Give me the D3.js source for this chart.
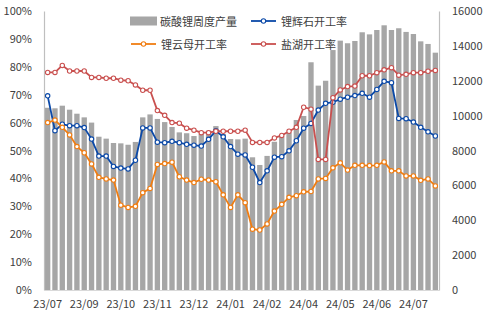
<!DOCTYPE html>
<html><head><meta charset="utf-8">
<script src="https://cdn.jsdelivr.net/npm/d3@7"></script>
<style>
html,body{margin:0;padding:0;background:#fff;}
svg text{font-family:"Noto Sans CJK SC","Noto Sans",sans-serif;}
</style></head>
<body><svg id="c" width="487" height="325"></svg>
<script>
const weeks = ["2023-07-28","2023-08-04","2023-08-11","2023-08-18","2023-08-25","2023-09-01","2023-09-08","2023-09-15","2023-09-22","2023-09-29",
"2023-10-06","2023-10-13","2023-10-20","2023-10-27","2023-11-03","2023-11-10","2023-11-17","2023-11-24","2023-12-01","2023-12-08",
"2023-12-15","2023-12-22","2023-12-29","2024-01-05","2024-01-12","2024-01-19","2024-01-26","2024-02-02","2024-02-09","2024-02-16",
"2024-02-23","2024-03-01","2024-03-08","2024-03-15","2024-03-22","2024-04-03","2024-04-12","2024-04-19","2024-04-26","2024-05-03",
"2024-05-10","2024-05-17","2024-05-24","2024-05-31","2024-06-07","2024-06-14","2024-06-21","2024-06-28","2024-07-05","2024-07-12",
"2024-07-19","2024-07-26","2024-08-02","2024-08-09"];
const tickLabels = ["23/07","23/09","23/10","23/11","23/12","24/01","24/02","24/04","24/05","24/06","24/07"];
const leftTicks = [0,10,20,30,40,50,60,70,80,90,100];
const rightTicks = [0,2000,4000,6000,8000,10000,12000,14000,16000];

// 碳酸锂周度产量 (吨)
const production = [10450,10420,10570,10340,10110,9900,9600,8790,8680,8430,
8410,8330,8490,9900,10070,9810,9630,9350,9040,8990,
8830,8950,9140,9400,8950,8660,8640,8680,7610,7170,
7690,8500,8790,9020,9750,9980,13060,11720,12000,13760,
14300,14150,14280,14780,14660,14910,15180,14910,15010,14800,
14680,14260,14110,13610];
// 锂辉石开工率 (%)
const spodumene = [69.6,57.1,59.4,58.9,58.9,58.2,54.1,48.0,48.0,44.3,
43.7,43.4,46.5,58.1,58.1,53.0,52.8,53.3,52.8,52.2,
51.9,51.6,54.0,57.1,54.9,51.4,48.7,48.4,44.0,38.5,
42.7,47.6,47.8,49.9,53.5,58.0,59.7,64.5,66.9,67.3,
68.4,69.1,69.7,70.5,69.1,71.9,74.8,74.3,61.5,61.4,
60.2,58.3,56.7,55.2];
// 锂云母开工率 (%)
const lepidolite = [60.0,60.9,58.3,55.6,51.4,49.2,45.2,40.4,39.8,39.4,
30.4,29.6,30.0,34.9,36.4,45.0,45.3,45.8,40.6,39.4,
38.5,39.7,39.4,38.8,34.1,29.6,34.1,31.3,21.8,21.5,
23.7,28.3,30.7,33.2,33.8,35.2,35.3,39.8,40.0,43.8,
45.6,43.0,44.7,44.7,44.6,44.7,45.9,42.7,42.7,40.9,
40.9,39.3,39.8,37.3];
// 盐湖开工率 (%)
const saltLake = [78.0,78.0,80.5,78.5,78.5,78.5,76.2,76.2,75.9,75.9,
75.2,75.0,73.5,71.6,71.6,64.3,62.6,60.0,59.8,58.0,
57.3,56.4,56.4,56.9,56.9,56.9,56.9,57.3,52.9,52.9,
52.9,54.5,55.4,56.9,58.3,65.5,64.8,46.8,46.8,68.9,
71.7,72.9,73.1,76.8,76.8,77.9,78.9,79.7,77.0,77.3,
77.9,77.9,78.4,78.7];

const seriesNames = {bar:"碳酸锂周度产量", s:"锂辉石开工率", l:"锂云母开工率", y:"盐湖开工率"};
const colors = {bar:"#A6A6A6", s:"#0B49A8", l:"#F07D12", y:"#C9504F"};

const svg = d3.select("#c");
const L = 44, R = 439, T = 11, B = 290;

const x = d3.scaleBand().domain(weeks).range([L, R]).paddingInner(0.27).paddingOuter(0.135);
const yL = d3.scaleLinear().domain([0,100]).range([B, T]);
const yR = d3.scaleLinear().domain([0,16000]).range([B, T]);

// bars
svg.append("g").selectAll("rect").data(production).join("rect")
  .attr("x", (d,i)=>x(weeks[i]))
  .attr("width", x.bandwidth())
  .attr("y", d=>yR(d))
  .attr("height", d=>B - yR(d))
  .attr("fill", colors.bar);

// axes
const tickColor = "#404040";
const axL = svg.append("g").attr("transform",`translate(${L},0)`)
  .call(d3.axisLeft(yL).tickValues(leftTicks).tickFormat(d=>d+"%").tickSize(0).tickPadding(12));
const axR = svg.append("g").attr("transform",`translate(${R},0)`)
  .call(d3.axisRight(yR).tickValues(rightTicks).tickFormat(d3.format("d")).tickSize(0).tickPadding(13));
const tickIdx = weeks.filter((d,i)=>i%5===0);
const axB = svg.append("g").attr("transform",`translate(0,${B})`)
  .call(d3.axisBottom(x).tickValues(tickIdx).tickFormat((d,i)=>tickLabels[i]).tickSize(0).tickPadding(10));
[axL,axR,axB].forEach(a=>{
  a.select(".domain").attr("stroke","#BFBFBF").attr("stroke-width",1.2);
  a.selectAll("text").attr("font-size","11px").attr("fill",tickColor)
   .style("font-family",'"Noto Sans CJK SC","Noto Sans",sans-serif');
});
axB.select(".domain").attr("stroke","#D9D9D9");

// lines
function drawLine(data, color){
  const line = d3.line().x((d,i)=>x(weeks[i])+x.bandwidth()/2).y(d=>yL(d));
  svg.append("path").datum(data).attr("d",line).attr("fill","none")
    .attr("stroke",color).attr("stroke-width",1.8).attr("stroke-linejoin","round");
  svg.append("g").selectAll("circle").data(data).join("circle")
    .attr("cx",(d,i)=>x(weeks[i])+x.bandwidth()/2).attr("cy",d=>yL(d))
    .attr("r",2.2).attr("fill","#fff").attr("stroke",color).attr("stroke-width",1.1);
}
drawLine(spodumene, colors.s);
drawLine(lepidolite, colors.l);
drawLine(saltLake, colors.y);

// legend
const lg = svg.append("g");
const items = [
  {t:"bar", name:seriesNames.bar, x:130, y:21},
  {t:"s", name:seriesNames.s, x:251, y:21},
  {t:"l", name:seriesNames.l, x:131, y:44},
  {t:"y", name:seriesNames.y, x:251, y:44}
];
items.forEach(it=>{
  if(it.t==="bar"){
    lg.append("rect").attr("x",it.x).attr("y",it.y-4.5).attr("width",27).attr("height",9).attr("fill",colors.bar);
  } else {
    lg.append("line").attr("x1",it.x).attr("x2",it.x+25).attr("y1",it.y).attr("y2",it.y)
      .attr("stroke",colors[it.t]).attr("stroke-width",1.8);
    lg.append("circle").attr("cx",it.x+12.5).attr("cy",it.y).attr("r",2.2)
      .attr("fill","#fff").attr("stroke",colors[it.t]).attr("stroke-width",1.1);
  }
  lg.append("text").attr("x",it.x+30).attr("y",it.y).attr("dominant-baseline","central")
    .attr("font-size","11px").attr("fill",tickColor).text(it.name);
});
</script></body></html>
